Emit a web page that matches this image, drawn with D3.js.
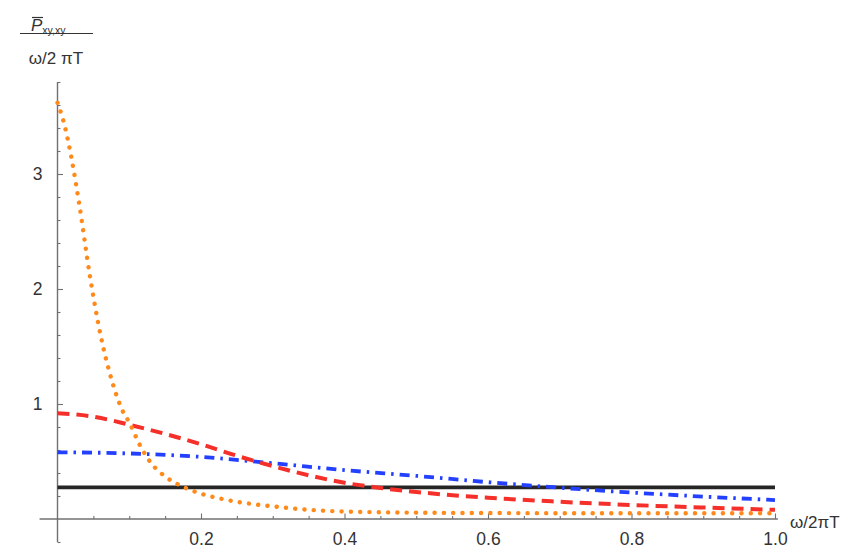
<!DOCTYPE html>
<html>
<head>
<meta charset="utf-8">
<script src="https://cdn.jsdelivr.net/npm/d3@7"></script>
<style>
  html, body { margin: 0; padding: 0; background: #fff; }
  svg { display: block; }
  text { font-family: "Liberation Sans", Arial, Helvetica, sans-serif; fill: #333; }
</style>
</head>
<body>
<svg id="chart" width="867" height="551"></svg>
<script>
// Horizontal axis: ω / 2πT
const xMajorTicks = [0.2, 0.4, 0.6, 0.8, 1.0];
const xTickLabels = ["0.2", "0.4", "0.6", "0.8", "1.0"];
const xMinorTicks = [0.05, 0.1, 0.15, 0.25, 0.3, 0.35, 0.45, 0.5, 0.55, 0.65, 0.7, 0.75, 0.85, 0.9, 0.95];

// Vertical axis: P̄xy,xy / (ω/2πT)
const yMajorTicks = [1, 2, 3];
const yTickLabels = ["1", "2", "3"];
const yMinorTicks = [-0.2, 0.2, 0.4, 0.6, 0.8, 1.2, 1.4, 1.6, 1.8, 2.2, 2.4, 2.6, 2.8, 3.2, 3.4, 3.6, 3.8];

// Flat reference level (solid black)
const flatX = [0, 1];
const flatY = [0.275, 0.275];

// Dash-dot curve (blue)
const blueX = [0, 0.1, 0.2, 0.3, 0.4, 0.5, 0.6, 0.7, 0.8, 0.9, 1.0];
const blueY = [0.58, 0.57, 0.54, 0.485, 0.425, 0.375, 0.32, 0.272, 0.23, 0.195, 0.165];

// Dashed curve (red)
const redX = [0, 0.05, 0.1, 0.15, 0.2, 0.25, 0.3, 0.35, 0.4, 0.45, 0.5, 0.6, 0.7, 0.8, 0.9, 1.0];
const redY = [0.92, 0.89, 0.82, 0.74, 0.65, 0.55, 0.46, 0.38, 0.315, 0.27, 0.235, 0.185, 0.15, 0.122, 0.1, 0.08];

// Dotted curve (orange)
const orangeX = [0, 0.01, 0.02, 0.03, 0.045, 0.06, 0.075, 0.09, 0.1, 0.115, 0.13, 0.15, 0.175, 0.2, 0.225, 0.25, 0.3, 0.35, 0.4, 0.5, 0.6, 0.8, 1.0];
const orangeY = [3.62, 3.42, 3.12, 2.75, 2.12, 1.6, 1.22, 0.95, 0.84, 0.64, 0.49, 0.37, 0.28, 0.22, 0.18, 0.15, 0.11, 0.08, 0.065, 0.055, 0.052, 0.05, 0.05];

const svg = d3.select("#chart");

const x = d3.scaleLinear().domain([0, 1]).range([57.5, 775]);
const y = d3.scaleLinear().domain([0, 1]).range([519, 404]);

// Axis lines
const axisColor = "#707070";
svg.append("line")
  .attr("x1", x(-0.025)).attr("x2", x(1.004))
  .attr("y1", y(0)).attr("y2", y(0))
  .attr("stroke", axisColor).attr("stroke-width", 1.4);
svg.append("line")
  .attr("x1", x(0)).attr("x2", x(0))
  .attr("y1", y(-0.2)).attr("y2", y(3.8))
  .attr("stroke", axisColor).attr("stroke-width", 1.4);

// Ticks pointing into the plot
function styleAxis(g) {
  g.select(".domain").remove();
  g.selectAll(".tick line").attr("stroke", axisColor).attr("stroke-width", 1.1);
}

svg.append("g")
  .attr("transform", `translate(0,${y(0)})`)
  .call(d3.axisBottom(x).tickValues(xMinorTicks).tickSize(-3).tickFormat(""))
  .call(styleAxis);

svg.append("g")
  .attr("transform", `translate(0,${y(0)})`)
  .call(d3.axisBottom(x).tickValues(xMajorTicks).tickSize(-5.5)
    .tickFormat((d, i) => xTickLabels[i]).tickPadding(14))
  .call(styleAxis)
  .call(g => g.selectAll(".tick text")
    .attr("font-size", 17.5).attr("fill", "#333")
    .attr("font-family", "Liberation Sans, Arial, sans-serif"));

svg.append("g")
  .attr("transform", `translate(${x(0)},0)`)
  .call(d3.axisLeft(y).tickValues(yMinorTicks).tickSize(-3).tickFormat(""))
  .call(styleAxis);

svg.append("g")
  .attr("transform", `translate(${x(0)},0)`)
  .call(d3.axisLeft(y).tickValues(yMajorTicks).tickSize(-5.5)
    .tickFormat((d, i) => yTickLabels[i]).tickPadding(15))
  .call(styleAxis)
  .call(g => g.selectAll(".tick text")
    .attr("font-size", 17.5).attr("fill", "#333")
    .attr("font-family", "Liberation Sans, Arial, sans-serif"));

// Curves
const line = d3.line()
  .x(d => x(d[0]))
  .y(d => y(d[1]))
  .curve(d3.curveMonotoneX);

const series = [
  { xs: flatX,   ys: flatY,   color: "#262626", width: 3.8, dash: null, cap: "butt" },
  { xs: blueX,   ys: blueY,   color: "#2340ff", width: 3.8, dash: "10 6 2.5 6", cap: "butt" },
  { xs: redX,    ys: redY,    color: "#f5302a", width: 4, dash: "12 7", cap: "butt" },
  { xs: orangeX, ys: orangeY, color: "#ff8a1c", width: 4.4, dash: "0.1 9.2", cap: "round" }
];

series.forEach(s => {
  svg.append("path")
    .datum(s.xs.map((v, i) => [v, s.ys[i]]))
    .attr("d", line)
    .attr("fill", "none")
    .attr("stroke", s.color)
    .attr("stroke-width", s.width)
    .attr("stroke-linecap", s.cap)
    .attr("stroke-dasharray", s.dash);
});

// Horizontal axis label
svg.append("text")
  .attr("x", 790).attr("y", 528)
  .attr("font-size", 17)
  .text("ω/2πT");

// Vertical axis label as a fraction
const num = svg.append("text").attr("x", 31).attr("y", 31).attr("font-size", 17);
num.append("tspan").text("P").attr("font-style", "italic");
num.append("tspan").text("xy,xy").attr("font-size", 10.5).attr("dy", 3);
svg.append("line")
  .attr("x1", 32).attr("x2", 43).attr("y1", 17.5).attr("y2", 17.5)
  .attr("stroke", "#333").attr("stroke-width", 1.2);
svg.append("line")
  .attr("x1", 20).attr("x2", 93).attr("y1", 33.5).attr("y2", 33.5)
  .attr("stroke", "#333").attr("stroke-width", 1.2);
svg.append("text")
  .attr("x", 56).attr("y", 64)
  .attr("text-anchor", "middle")
  .attr("font-size", 17)
  .text("ω/2 πT");
</script>
</body>
</html>
